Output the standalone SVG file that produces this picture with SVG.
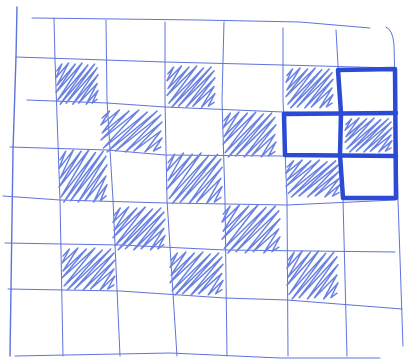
<svg xmlns="http://www.w3.org/2000/svg" width="405" height="362" viewBox="0 0 405 362">
<style>
.g{fill:none;stroke:#5f73dc;stroke-width:1;stroke-linecap:round;stroke-linejoin:round}
.hatch{fill:none;stroke:#6b82e2;stroke-width:1.5;stroke-linejoin:round;stroke-linecap:round;vector-effect:non-scaling-stroke}
.bold{fill:none;stroke:#2c4bd4;stroke-width:4.5;stroke-linecap:round;stroke-linejoin:round}
</style>
<defs>
<path id="h" class="hatch" d="M1,8L7,1L0,15L15,0L1,23L23,1L0,30L31,0L2,38L38,2L5,42L46,1L12,41L49,5L20,42L50,12L27,41L49,21L36,42L50,28L43,41L49,37"/>
</defs>
<rect width="405" height="362" fill="#ffffff"/>
<g id="grid">
<polyline class="g" points="17,7 16,57 13,150 10,356" style="stroke-width:1.4"/>
<polyline class="g" points="54,18 55,60 60,200 63,356"/>
<polyline class="g" points="106,20 107,100 113,200 120,356"/>
<polyline class="g" points="165,22 165,100 167,200 177,356"/>
<polyline class="g" points="224,22 222,100 225,200 227,356"/>
<polyline class="g" points="283,28 283,100 287,200 288,356"/>
<polyline class="g" points="336,30 338,65 343,200 347,356"/>
<path class="g" d="M386,27 Q393,30 394,45 L398,200 L403,346"/>
<polyline class="g" points="32,18 200,20 300,22 370,28"/>
<polyline class="g" points="16,57 165,62 283,65 393,68"/>
<polyline class="g" points="27,100 107,103 165,107 283,112 393,113"/>
<polyline class="g" points="10,147 107,150 165,155 283,156 393,156"/>
<polyline class="g" points="3,196 60,200 167,203 287,205 395,200"/>
<polyline class="g" points="5,243 120,245 225,250 395,252"/>
<polyline class="g" points="8,289 120,291 225,298 287,300 402,309"/>
<polyline class="g" points="15,356 170,353 280,358 380,358"/>
</g>
<g id="hatches">
<use href="#h" transform="translate(56,63) scale(0.84,0.98)"/>
<use href="#h" transform="translate(167,66) scale(0.96,0.98)"/>
<use href="#h" transform="translate(286,68) scale(0.94,0.95)"/>
<use href="#h" transform="translate(101,110) scale(1.22,1)"/>
<use href="#h" transform="translate(223,112) scale(1.06,1.07)"/>
<use href="#h" transform="translate(345,118) scale(0.94,0.81)"/>
<use href="#h" transform="translate(59,150) scale(0.96,1.24)"/>
<use href="#h" transform="translate(167,153) scale(1.1,1.2)"/>
<use href="#h" transform="translate(286,160) scale(1.08,0.88)"/>
<use href="#h" transform="translate(113,207) scale(1.04,1.02)"/>
<use href="#h" transform="translate(222,205) scale(1.16,1.14)"/>
<use href="#h" transform="translate(62,248) scale(1.06,1)"/>
<use href="#h" transform="translate(170,252) scale(1.06,1.02)"/>
<use href="#h" transform="translate(287,251) scale(1.02,1.14)"/>
</g>
<g id="plus">
<polyline class="bold" points="338,70 395,69 396,198 343,198 340,155 341,113 338,70"/>
<polyline class="bold" points="284,114 396,113"/>
<polyline class="bold" points="284,114 285,155 396,156"/>
</g>
</svg>
